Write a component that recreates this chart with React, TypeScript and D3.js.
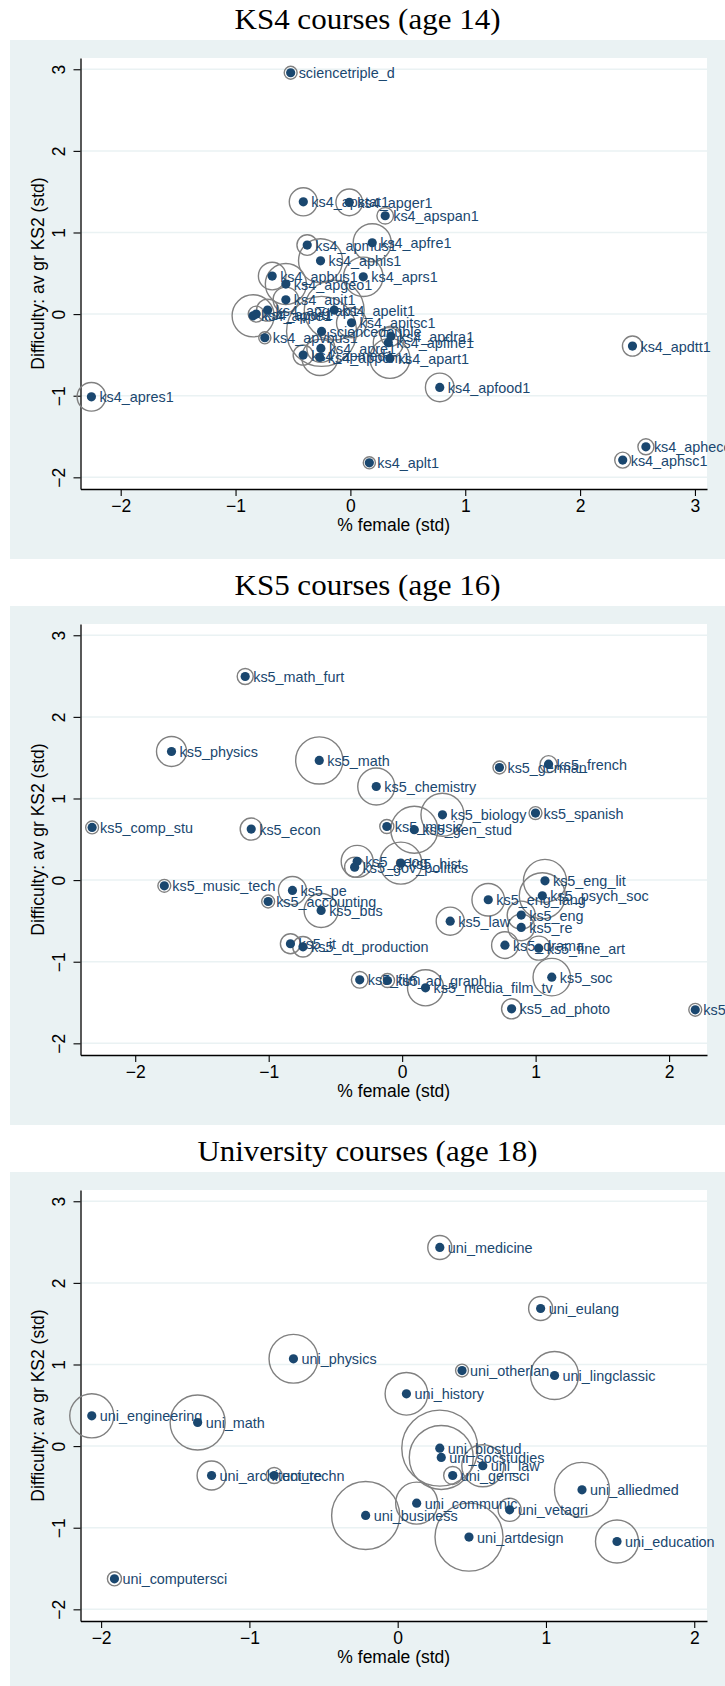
import React, { useEffect, useRef } from "react";
import * as d3 from "d3";

// KS4 courses (age 14)
const ks4Names = [
  "sciencetriple_d", "ks4_apstat1", "ks4_apger1", "ks4_apspan1", "ks4_apmus1",
  "ks4_apfre1", "ks4_aphis1", "ks4_apbus1", "ks4_aprs1", "ks4_apgeo1",
  "ks4_apit1", "ks4_apgrap1", "ks4_apelit1", "ks4_appe1", "ks4_apcit1",
  "ks4_apitsc1", "ks4_apvbus1", "sciencedouble", "ks4_apre1", "ks4_apmed1",
  "ks4_appom1", "ks4_apdra1", "ks4_apfine1", "ks4_apart1", "ks4_apdtt1",
  "ks4_apfood1", "ks4_apres1", "ks4_apheco1", "ks4_aphsc1", "ks4_aplt1",
];
const ks4Female = [
  -0.52, -0.41, -0.01, 0.303, -0.376,
  0.19, -0.26, -0.681, 0.112, -0.562,
  -0.562, -0.721, -0.141, -0.847, -0.82,
  0.01, -0.745, -0.251, -0.257, -0.411,
  -0.266, 0.353, 0.33, 0.344, 2.456,
  0.778, -2.255, 2.573, 2.371, 0.165,
];
const ks4Difficulty = [
  2.957, 1.376, 1.369, 1.205, 0.846,
  0.874, 0.653, 0.466, 0.457, 0.368,
  0.175, 0.049, 0.049, -0.021, 0.0,
  -0.106, -0.29, -0.212, -0.42, -0.502,
  -0.531, -0.27, -0.35, -0.543, -0.392,
  -0.899, -1.013, -1.626, -1.789, -1.822,
];
const ks4Weight = [
  2.6, 12.3, 11.1, 4.3, 6.6,
  22.6, 30.3, 11.9, 24.3, 26.3,
  10.1, 7.6, 56, 27.6, 4,
  14.1, 2.3, 76.6, 12.3, 6.3,
  20.3, 6.3, 14.1, 25, 6.3,
  12.8, 12.8, 4, 4, 2.3,
];

// KS5 courses (age 16)
const ks5Names = [
  "ks5_math_furt", "ks5_physics", "ks5_math", "ks5_chemistry", "ks5_german",
  "ks5_french", "ks5_biology", "ks5_spanish", "ks5_comp_stu", "ks5_econ",
  "ks5_music", "ks5_gen_stud", "ks5_geog", "ks5_gov_politics", "ks5_hist",
  "ks5_music_tech", "ks5_pe", "ks5_accounting", "ks5_bus", "ks5_law",
  "ks5_eng_lang", "ks5_eng_lit", "ks5_psych_soc", "ks5_eng", "ks5_re",
  "ks5_drama", "ks5_fine_art", "ks5_soc", "ks5_media_film_tv", "ks5_film",
  "ks5_ad_graph", "ks5_ad_photo", "ks5_home_econ", "ks5_it", "ks5_dt_production",
];
const ks5Female = [
  -1.176, -1.728, -0.621, -0.194, 0.729,
  1.097, 0.302, 0.999, -2.323, -1.131,
  -0.115, 0.091, -0.337, -0.356, -0.01,
  -1.782, -0.822, -1.004, -0.607, 0.36,
  0.645, 1.07, 1.05, 0.892, 0.892,
  0.77, 1.023, 1.121, 0.175, -0.318,
  -0.11, 0.82, 2.196, -0.837, -0.743,
];
const ks5Difficulty = [
  2.495, 1.576, 1.466, 1.147, 1.38,
  1.421, 0.8, 0.821, 0.645, 0.625,
  0.657, 0.617, 0.23, 0.159, 0.208,
  -0.07, -0.127, -0.262, -0.372, -0.503,
  -0.241, -0.009, -0.192, -0.429, -0.58,
  -0.797, -0.834, -1.189, -1.32, -1.222,
  -1.23, -1.577, -1.589, -0.78, -0.817,
];
const ks5Weight = [
  4, 14.1, 34.8, 21.4, 2.6,
  4.5, 28.9, 2.6, 2.6, 7.6,
  3.1, 34.5, 16, 6.3, 27.6,
  2.6, 12.3, 2.6, 18.1, 12.3,
  16.6, 28.9, 33.1, 12.3, 11.1,
  11.1, 9, 21.9, 20.3, 4.3,
  3.1, 6.3, 2.6, 6.3, 6.6,
];

// University courses (age 18)
const uniNames = [
  "uni_medicine", "uni_eulang", "uni_physics", "uni_otherlan", "uni_lingclassic",
  "uni_history", "uni_engineering", "uni_math", "uni_biostud", "uni_socstudies",
  "uni_law", "uni_gensci", "uni_alliedmed", "uni_communic", "uni_vetagri",
  "uni_business", "uni_artdesign", "uni_education", "uni_computersci",
  "uni_architecture", "uni_techn",
];
const uniFemale = [
  0.284, 0.964, -0.703, 0.434, 1.058,
  0.059, -2.063, -1.349, 0.284, 0.294,
  0.574, 0.371, 1.243, 0.128, 0.755,
  -0.216, 0.481, 1.479, -1.91,
  -1.255, -0.833,
];
const uniDifficulty = [
  2.434, 1.686, 1.07, 0.926, 0.865,
  0.641, 0.371, 0.289, -0.025, -0.139,
  -0.241, -0.36, -0.536, -0.699, -0.781,
  -0.85, -1.115, -1.169, -1.626,
  -0.36, -0.36,
];
const uniWeight = [
  9, 9, 37.2, 2.6, 36,
  28.4, 30.3, 47.3, 90.3, 64,
  27.6, 5.1, 47.3, 27.6, 8.3,
  72.3, 72.3, 28.9, 3.1,
  13.1, 4,
];

const yTicks = [-2, -1, 0, 1, 2, 3];

const panels = [
  {
    title: "KS4 courses (age 14)", titleWidth: 266,
    names: ks4Names, female: ks4Female, difficulty: ks4Difficulty, weight: ks4Weight,
    xDomain: [-2.35, 3.105], xTicks: [-2, -1, 0, 1, 2, 3], top: 40,
  },
  {
    title: "KS5 courses (age 16)", titleWidth: 266,
    names: ks5Names, female: ks5Female, difficulty: ks5Difficulty, weight: ks5Weight,
    xDomain: [-2.41, 2.284], xTicks: [-2, -1, 0, 1, 2], top: 606,
  },
  {
    title: "University courses (age 18)", titleWidth: 340,
    names: uniNames, female: uniFemale, difficulty: uniDifficulty, weight: uniWeight,
    xDomain: [-2.139, 2.086], xTicks: [-2, -1, 0, 1, 2], top: 1172,
  },
];

const W = 725;
const H = 1686;
const boxLeft = 10;
const boxHeight = 519;
const plot = { left: 80.5, right: 707, top: 18, bottom: 449 };
const navy = "#1a476f";
const bluishGray = "#eaf2f3";

const App = () => {
  const svgRef = useRef(null);

  useEffect(() => {
    const svg = d3.select(svgRef.current);
    svg.selectAll("*").remove();

    const r = d3.scaleSqrt().domain([0, 100]).range([0, 40]);
    const y = d3.scaleLinear().domain([-2.143, 3.138]).range([plot.bottom, plot.top]);

    panels.forEach((p) => {
      const x = d3.scaleLinear().domain(p.xDomain).range([plot.left, plot.right]);
      const data = p.names.map((name, i) => ({
        name,
        female: p.female[i],
        difficulty: p.difficulty[i],
        weight: p.weight[i],
      }));

      const g = svg.append("g").attr("transform", `translate(0,${p.top})`);

      // title
      g.append("text")
        .attr("x", (boxLeft + W) / 2)
        .attr("y", -11)
        .attr("text-anchor", "middle")
        .attr("font-family", "'Liberation Serif', 'DejaVu Serif', serif")
        .attr("font-size", 30)
        .attr("textLength", p.titleWidth)
        .attr("lengthAdjust", "spacingAndGlyphs")
        .attr("fill", "#000")
        .text(p.title);

      // background + plot region
      g.append("rect")
        .attr("x", boxLeft).attr("y", 0)
        .attr("width", W - boxLeft).attr("height", boxHeight)
        .attr("fill", bluishGray);
      g.append("rect")
        .attr("x", plot.left).attr("y", plot.top)
        .attr("width", plot.right - plot.left).attr("height", plot.bottom - plot.top)
        .attr("fill", "#fff");

      // gridlines
      g.append("g")
        .selectAll("line")
        .data(yTicks)
        .join("line")
        .attr("x1", plot.left)
        .attr("x2", plot.right)
        .attr("y1", (d) => y(d))
        .attr("y2", (d) => y(d))
        .attr("stroke", bluishGray)
        .attr("stroke-width", 1.5);

      // axes
      const yAxis = g.append("g")
        .attr("transform", `translate(${plot.left},0)`)
        .call(d3.axisLeft(y).tickValues(yTicks).tickSize(7).tickSizeOuter(0).tickFormat(d3.format("d")));
      yAxis.selectAll("text")
        .attr("transform", "rotate(-90)")
        .attr("x", 0)
        .attr("y", -16)
        .attr("dy", null)
        .attr("text-anchor", "middle");

      const xAxis = g.append("g")
        .attr("transform", `translate(0,${plot.bottom})`)
        .call(d3.axisBottom(x).tickValues(p.xTicks).tickSize(7).tickSizeOuter(0).tickFormat(d3.format("d")));
      xAxis.selectAll("text").attr("y", 11).attr("dy", "0.71em");

      [yAxis, xAxis].forEach((a) => {
        a.attr("font-family", "'Liberation Sans', Arial, sans-serif").attr("font-size", 17.5);
        a.select(".domain").attr("stroke", "#000").attr("stroke-width", 1.3);
        a.selectAll(".tick line").attr("stroke", "#000").attr("stroke-width", 1.1);
        a.selectAll("text").attr("fill", "#000");
      });

      // axis titles
      g.append("text")
        .attr("transform", `translate(44,${(plot.top + plot.bottom) / 2}) rotate(-90)`)
        .attr("text-anchor", "middle")
        .attr("font-family", "'Liberation Sans', Arial, sans-serif")
        .attr("font-size", 17.5)
        .text("Difficulty: av gr KS2 (std)");
      g.append("text")
        .attr("x", (plot.left + plot.right) / 2)
        .attr("y", plot.bottom + 42)
        .attr("text-anchor", "middle")
        .attr("font-family", "'Liberation Sans', Arial, sans-serif")
        .attr("font-size", 17.5)
        .text("% female (std)");

      // weighted hollow circles
      g.append("g")
        .selectAll("circle")
        .data(data)
        .join("circle")
        .attr("cx", (d) => x(d.female))
        .attr("cy", (d) => y(d.difficulty))
        .attr("r", (d) => r(d.weight))
        .attr("fill", "none")
        .attr("stroke", "#808080")
        .attr("stroke-width", 1.4);

      // markers
      g.append("g")
        .selectAll("circle")
        .data(data)
        .join("circle")
        .attr("cx", (d) => x(d.female))
        .attr("cy", (d) => y(d.difficulty))
        .attr("r", 4.6)
        .attr("fill", navy);

      // marker labels
      g.append("g")
        .selectAll("text")
        .data(data)
        .join("text")
        .attr("x", (d) => x(d.female) + 8)
        .attr("y", (d) => y(d.difficulty) + 5.5)
        .attr("font-family", "'Liberation Sans', Arial, sans-serif")
        .attr("font-size", 14.4)
        .attr("fill", navy)
        .text((d) => d.name);
    });
  }, []);

  return (
    <svg
      ref={svgRef}
      width={W}
      height={H}
      style={{ position: "absolute", left: 0, top: 0, background: "#fff" }}
    ></svg>
  );
};

export default App;
